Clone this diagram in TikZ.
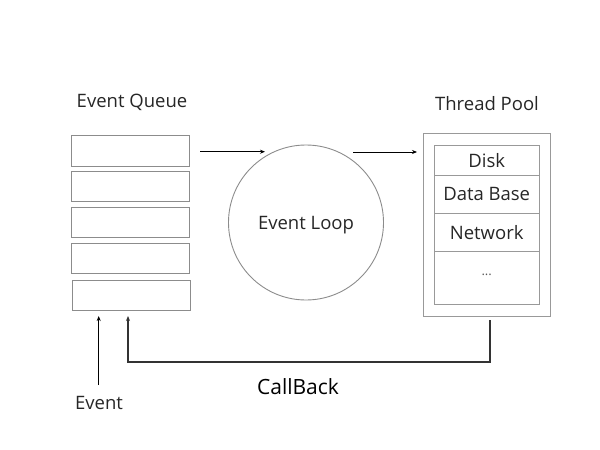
\documentclass[tikz,border=0pt]{standalone}
\usepackage{fontspec}
\setmainfont{Open Sans}
\usetikzlibrary{arrows.meta}
\begin{document}
\begin{tikzpicture}[x=1pt,y=-1pt,
  qbox/.style={draw=black!45,line width=0.9pt,inner sep=0pt},
  lbl/.style={font=\fontsize{18.5}{20}\selectfont,text=black!85,inner sep=0pt},
  cellbox/.style={draw=black!40,line width=0.9pt,minimum width=104.5pt,inner sep=0pt,font=\fontsize{18.5}{20}\selectfont,text=black!85},
  arr/.style={-{Stealth[length=5pt,width=4pt]},line width=0.8pt}]
\useasboundingbox (0,0) rectangle (600,450);
\node[lbl] (eq) at (132,102) {Event Queue};
\draw[qbox] (71,135.5) rectangle (189,166);
\draw[qbox] (71,171.5) rectangle (189,201.5);
\draw[qbox] (71,207.5) rectangle (189,237.5);
\draw[qbox] (71,243.5) rectangle (189,273.5);
\draw[qbox] (72.5,280) rectangle (190,310);
\node[draw=black!45,line width=0.9pt,circle,minimum size=155pt,inner sep=0pt] (loop) at (306,222.5) {};
\node[lbl] (looplbl) at (306,225.5) {Event Loop};
\node[lbl] (tp) at (487,104) {Thread Pool};
\node[draw=black!40,line width=0.9pt,minimum width=126.5pt,minimum height=183pt,inner sep=0pt] (pool) at (486.7,225.2) {};
\node[cellbox,minimum height=29.5pt] (disk) at (486.7,160.5) {Disk};
\node[cellbox,minimum height=38.3pt] (db) at (486.7,194.2) {Data Base};
\node[cellbox,minimum height=38.4pt] (net) at (486.7,232.5) {Network};
\node[cellbox,minimum height=52.3pt,font=\fontsize{13}{14}\selectfont,text=black!65] (dots) at (486.7,277.8) {\raisebox{6pt}{...}};
\coordinate (a1s) at (200,151.7);
\coordinate (a1e) at (265,151.7);
\draw[arr] (a1s) -- (a1e);
\coordinate (a2s) at (353,152);
\coordinate (a2e) at (417,152);
\draw[arr] (a2s) -- (a2e);
\node[lbl] (ev) at (99,403) {Event};
\coordinate (evs) at (98.7,385);
\coordinate (evtip) at (98.7,316);
\draw[arr] (evs) -- (evtip);
\coordinate (cbs) at (490,320);
\coordinate (cbtip) at (128,316);
\draw[arr,line width=1.2pt,draw=black!80] (cbs) -- (490,362) -- (128,362) -- (cbtip);
\node[font=\fontsize{21}{24}\selectfont,text=black,inner sep=0pt] (cb) at (298,387) {CallBack};
\end{tikzpicture}
\end{document}
